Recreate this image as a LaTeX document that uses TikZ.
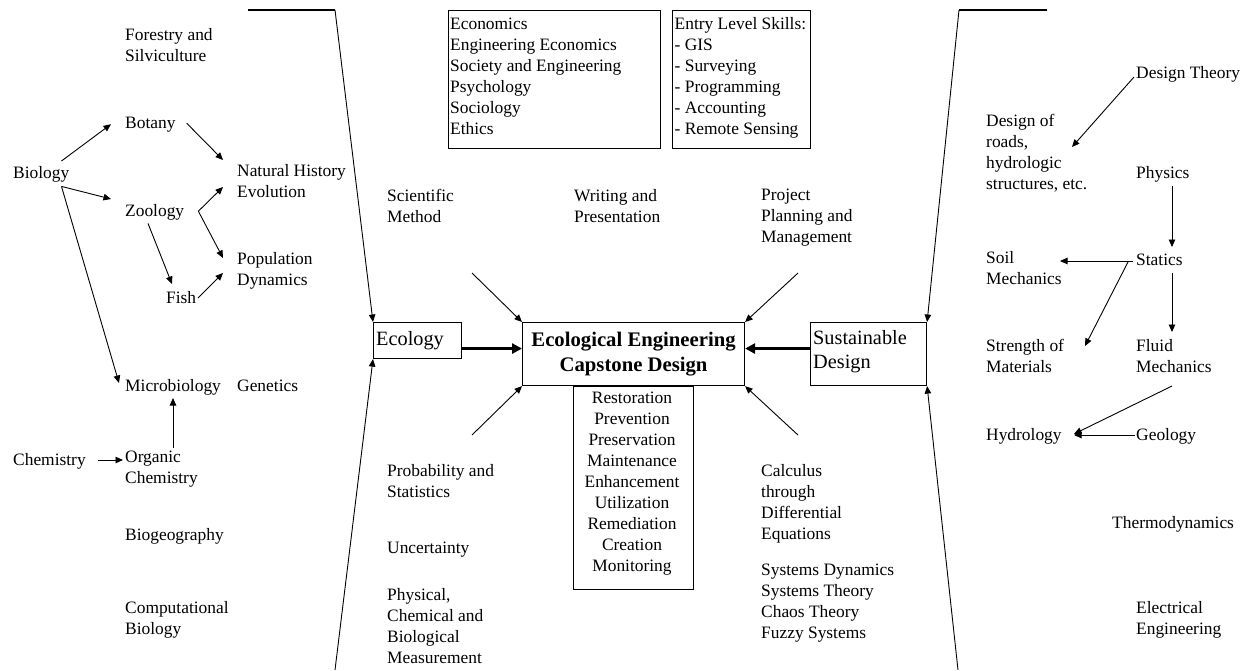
\documentclass[tikz,border=0pt]{standalone}
\usepackage{fontspec}
\setmainfont{Liberation Serif}
\usetikzlibrary{arrows.meta}
\begin{document}
\begin{tikzpicture}[x=1pt,y=-1pt,
  txt/.style={anchor=north west, inner sep=0pt, align=left, font=\fontsize{17.4}{21}\selectfont, execute at begin node=\strut},
  btxt/.style={anchor=north west, inner sep=0pt, align=left, font=\fontsize{20.3}{24}\selectfont, execute at begin node=\strut},
  frame/.style={draw, line width=1.1pt, anchor=north west, inner sep=0pt},
  arr/.style={line width=0.9pt, -{Triangle[length=7.5pt,width=6.5pt]}},
  thk/.style={line width=3.5pt, -{Triangle[length=10pt,width=10pt]}},
  plain/.style={line width=1.2pt}]
\useasboundingbox (0,0) rectangle (1248,670);

% left column
\node[txt] (forestry) at (125,28) {Forestry and\\Silviculture};
\node[txt] (botany) at (125,114) {Botany};
\node[txt] (biology) at (13,164) {Biology};
\node[txt] (natural) at (237,164) {Natural History\\Evolution};
\node[txt] (zoology) at (125,202) {Zoology};
\node[txt] (population) at (237,252) {Population\\Dynamics};
\node[txt] (fish) at (166,289) {Fish};
\node[txt] (micro) at (125,377) {Microbiology};
\node[txt] (genetics) at (237,377) {Genetics};
\node[txt] (chemistry) at (13,451) {Chemistry};
\node[txt] (organic) at (125,451) {Organic\\Chemistry};
\node[txt] (biogeo) at (125,526) {Biogeography};
\node[txt] (comp) at (125,601) {Computational\\Biology};

% centre
\node[frame, minimum width=212, minimum height=138] (econ) at (448,10) {};
\node[txt] (econtext) at (450,17.5) {Economics\\Engineering Economics\\Society and Engineering\\Psychology\\Sociology\\Ethics};
\node[frame, minimum width=138, minimum height=138] (skills) at (672,10) {};
\node[txt] (skillstext) at (674.5,17.5) {Entry Level Skills:\\- GIS\\- Surveying\\- Programming\\- Accounting\\- Remote Sensing};

\node[txt] (scientific) at (387,189) {Scientific\\Method};
\node[txt] (writing) at (574,189) {Writing and\\Presentation};
\node[txt] (project) at (761,189) {Project\\Planning and\\Management};

\node[frame, minimum width=88, minimum height=36] (eco) at (373,322) {};
\node[btxt] (ecotext) at (376,328.5) {Ecology};
\node[draw, line width=1.1pt, anchor=north west, minimum width=222, minimum height=63, inner sep=2pt, align=center, font=\bfseries\fontsize{20.7}{25}\selectfont] (cap) at (522,322) {Ecological Engineering\\Capstone Design};
\node[draw, line width=1.1pt, anchor=north, minimum width=120, minimum height=203, inner sep=0pt] (methods) at (cap.south) {};
\node[anchor=north, inner sep=0pt, align=center, font=\fontsize{17.4}{21}\selectfont, execute at begin node=\strut] (methodstext) at (632,392) {Restoration\\Prevention\\Preservation\\Maintenance\\Enhancement\\Utilization\\Remediation\\Creation\\Monitoring};
\node[frame, minimum width=116, minimum height=63] (sus) at (810,322) {};
\node[btxt] (sustext) at (813,330) {Sustainable\\Design};

\node[txt] (prob) at (387,464) {Probability and\\Statistics};
\node[txt] (unc) at (387,539) {Uncertainty};
\node[txt] (phys) at (387,588) {Physical,\\Chemical and\\Biological\\Measurement};
\node[txt] (calc) at (761,464) {Calculus\\through\\Differential\\Equations};
\node[txt] (sys) at (761,564) {Systems Dynamics\\Systems Theory\\Chaos Theory\\Fuzzy Systems};

% right column
\node[txt] (dtheory) at (1136,64) {Design Theory};
\node[txt] (designof) at (986,114) {Design of\\roads,\\hydrologic\\structures, etc.};
\node[txt] (physics) at (1136,164) {Physics};
\node[txt] (statics) at (1136,251) {Statics};
\node[txt] (soil) at (986,251) {Soil\\Mechanics};
\node[txt] (strength) at (986,339) {Strength of\\Materials};
\node[txt] (fluid) at (1136,339) {Fluid\\Mechanics};
\node[txt] (hydro) at (986,426) {Hydrology};
\node[txt] (geology) at (1136,426) {Geology};
\node[txt] (thermo) at (1112,514) {Thermodynamics};
\node[txt] (elec) at (1136,601) {Electrical\\Engineering};

% left arrows
\draw[arr] ([shift={(-8,-3)}]biology.north east) -- ([shift={(-14,-0.5)}]botany.west);
\draw[arr] ([shift={(-8,1)}]biology.south east) -- ([shift={(-14,-3)}]zoology.north west);
\draw[arr] ([shift={(-8,1)}]biology.south east) -- ([shift={(-6,6)}]micro.north west);
\draw[arr] ([shift={(11,-1.5)}]botany.east) -- ([shift={(-14,-4)}]natural.north west);
\draw[arr] ([shift={(14,-1.5)}]zoology.east) -- ([shift={(-14,23)}]natural.north west);
\draw[arr] ([shift={(14,-1.5)}]zoology.east) -- ([shift={(-14,6)}]population.north west);
\draw[arr] ([shift={(23,0)}]zoology.south west) -- ([shift={(6,-5)}]fish.north west);
\draw[arr] ([shift={(32,9)}]fish.north west) -- ([shift={(-14,21)}]population.north west);
\draw[arr] ([shift={(85,9)}]chemistry.north west) -- ([shift={(-2,9)}]organic.north west);
\draw[arr] ([shift={(48,-3)}]organic.north west) -- ([shift={(48,21)}]micro.north west);

% right arrows
\draw[arr] ([shift={(-2,13)}]dtheory.north west) -- ([shift={(86,33)}]designof.north west);
\draw[arr] ([shift={(36,22)}]physics.north west) -- ([shift={(36,-4)}]statics.north west);
\draw[arr] ([shift={(-3,10)}]statics.north west) -- ([shift={(74,10)}]soil.north west);
\draw[arr] ([shift={(-8,11)}]statics.north west) -- ([shift={(99,7)}]strength.north west);
\draw[arr] ([shift={(36,22)}]statics.north west) -- ([shift={(36,-7)}]fluid.north west);
\draw[arr] ([shift={(36,47)}]fluid.north west) -- ([shift={(88,8)}]hydro.north west);
\draw[arr] ([shift={(-1,9)}]geology.north west) -- ([shift={(88,9)}]hydro.north west);

% brackets
\coordinate (tlA) at (248,10);
\coordinate (tlB) at (335,10);
\coordinate (blA) at (335,670);
\coordinate (trA) at (1047,10);
\coordinate (trB) at (959,10);
\coordinate (brA) at (958,670);
\draw[plain] (tlA) -- (tlB);
\draw[arr] (tlB) -- (eco.north west);
\draw[arr] (blA) -- (eco.south west);
\draw[plain] (trA) -- (trB);
\draw[arr] (trB) -- (sus.north east);
\draw[arr] (brA) -- (sus.south east);

% corner arrows into capstone
\coordinate (c1) at (472,273);
\coordinate (c2) at (798,273);
\coordinate (c3) at (472,435);
\coordinate (c4) at (798,435);
\draw[arr] (c1) -- (cap.north west);
\draw[arr] (c2) -- (cap.north east);
\draw[arr] (c3) -- (cap.south west);
\draw[arr] (c4) -- (cap.south east);

% thick arrows
\draw[thk] ([shift={(0,8)}]eco.east) -- ([shift={(0,8)}]eco.east -| cap.west);
\draw[thk] ([shift={(0,-5.5)}]sus.west) -- ([shift={(0,-5.5)}]sus.west -| cap.east);
\end{tikzpicture}
\end{document}
